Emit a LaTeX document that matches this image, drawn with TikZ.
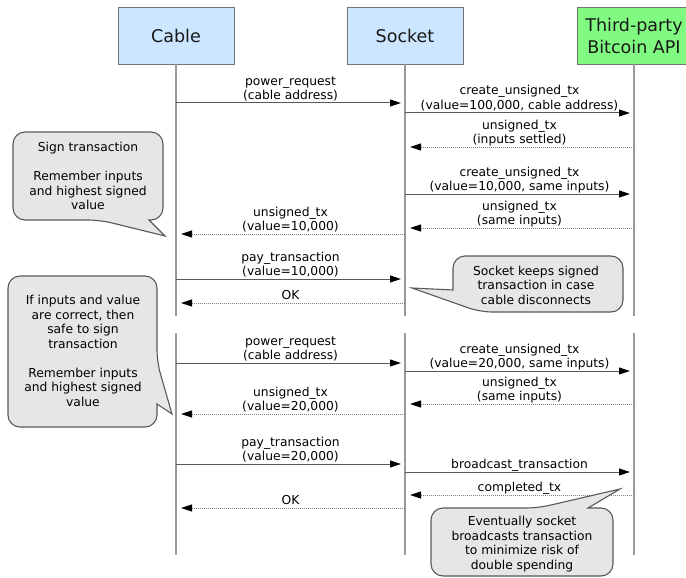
\documentclass[tikz,border=0pt]{standalone}
\usepackage{fontspec}
\setmainfont{DejaVu Sans}
\usetikzlibrary{arrows.meta}
\definecolor{boxblue}{RGB}{204,230,255}
\definecolor{boxgreen}{RGB}{128,250,128}
\definecolor{notegray}{RGB}{230,230,230}
\newcommand\msgfont{\fontsize{12.3}{14.5}\selectfont}
\newcommand\headfont{\fontsize{17.5}{22}\selectfont}
\begin{document}
\begin{tikzpicture}[x=1pt,y=-1pt,
  head/.style={draw=black!55,line width=0.9pt,minimum width=116pt,minimum height=57pt,align=center,font=\headfont,text=black!90},
  life/.style={draw=black!40,line width=1.3pt},
  msg/.style={draw=black!65,line width=1pt,shorten >=4pt,-{Triangle[length=11pt,width=7pt,black]}},
  reply/.style={draw=black!50,line width=1pt,dash pattern=on 1pt off 1pt,shorten >=5pt,-{Triangle[length=11pt,width=7pt,black]}},
  lbl/.style={above=3pt,inner sep=0pt,text depth=0pt,align=center,font=\msgfont,text=black},
  note/.style={draw=black!65,fill=notegray,line width=1.1pt},
  notetext/.style={align=center,font=\msgfont,text=black}]
  \clip (0,0) rectangle (686,578);
  \node[head,fill=boxblue] (cable) at (176,35.5) {Cable};
  \node[head,fill=boxblue] (socket) at (405,35.5) {Socket};
  \node[head,fill=boxgreen,minimum width=114pt] (api) at (634,35.5) {Third-party\\Bitcoin API};
  \foreach \n in {cable,socket,api}{
    \draw[life] (\n.south) -- (\n |- 0,316);
    \draw[life] (\n |- 0,333) -- (\n |- 0,555);
  }
  \draw[msg] (cable |- 0,103) -- node[lbl]{power\_request\\(cable address)} (socket |- 0,103);
  \draw[msg] (socket |- 0,113) -- node[lbl]{create\_unsigned\_tx\\(value=100,000, cable address)} (api |- 0,113);
  \draw[reply] (api |- 0,147) -- node[lbl]{unsigned\_tx\\(inputs settled)} (socket |- 0,147);
  \draw[msg] (socket |- 0,194) -- node[lbl]{create\_unsigned\_tx\\(value=10,000, same inputs)} (api |- 0,194);
  \draw[reply] (api |- 0,228) -- node[lbl]{unsigned\_tx\\(same inputs)} (socket |- 0,228);
  \draw[reply] (socket |- 0,234) -- node[lbl]{unsigned\_tx\\(value=10,000)} (cable |- 0,234);
  \draw[msg] (cable |- 0,279) -- node[lbl]{pay\_transaction\\(value=10,000)} (socket |- 0,279);
  \draw[reply] (socket |- 0,303) -- node[lbl]{OK} (cable |- 0,303);
  \draw[msg] (cable |- 0,363) -- node[lbl]{power\_request\\(cable address)} (socket |- 0,363);
  \draw[msg] (socket |- 0,371) -- node[lbl]{create\_unsigned\_tx\\(value=20,000, same inputs)} (api |- 0,371);
  \draw[reply] (api |- 0,404) -- node[lbl]{unsigned\_tx\\(same inputs)} (socket |- 0,404);
  \draw[reply] (socket |- 0,414) -- node[lbl]{unsigned\_tx\\(value=20,000)} (cable |- 0,414);
  \draw[msg] (cable |- 0,464) -- node[lbl]{pay\_transaction\\(value=20,000)} (socket |- 0,464);
  \draw[msg] (socket |- 0,472) -- node[lbl]{broadcast\_transaction} (api |- 0,472);
  \draw[reply] (api |- 0,495) -- node[lbl]{completed\_tx} (socket |- 0,495);
  \draw[reply] (socket |- 0,508) -- node[lbl]{OK} (cable |- 0,508);
  \draw[note] (163,180) [rounded corners=12pt] -- (163,132) -- (13,132) -- (13,220) -- (100,220) [sharp corners] -- (165,236) -- (149,220) [rounded corners=12pt] -- (163,220) -- cycle;
  \node[notetext] (signnote) at (88,176) {Sign transaction\\[14.5pt]Remember inputs\\and highest signed\\value};
  \draw[note] (538,256) [rounded corners=12pt] -- (623,256) -- (623,312) -- (480,312) [sharp corners] -- (412,288) -- (453,290) [rounded corners=12pt] -- (453,256) -- cycle;
  \node[notetext] (keepnote) at (536,285) {Socket keeps signed\\transaction in case\\cable disconnects};
  \draw[note] (80,276) [rounded corners=12pt] -- (157,276) -- (157,362) [sharp corners] -- (172,414) -- (157,404) [rounded corners=12pt] -- (157,427) -- (8,427) -- (8,276) -- cycle;
  \node[notetext] (checknote) at (83,351) {If inputs and value\\are correct, then\\safe to sign\\transaction\\[14.5pt]Remember inputs\\and highest signed\\value};
  \draw[note] (431,540) [rounded corners=12pt] -- (431,508) -- (538,508) [sharp corners] -- (620,489) -- (588,508) [rounded corners=12pt] -- (613,508) -- (613,576) -- (431,576) -- cycle;
  \node[notetext] (broadnote) at (522,544) {Eventually socket\\broadcasts transaction\\to minimize risk of\\double spending};
\end{tikzpicture}
\end{document}
